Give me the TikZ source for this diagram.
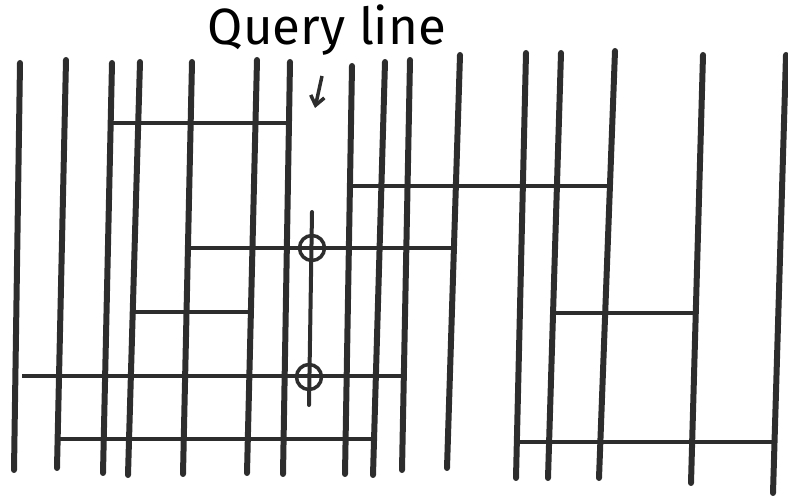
\documentclass[tikz,border=0pt]{standalone}
\usepackage{fontspec}
\usepackage{graphicx}
\setmainfont{Fira Sans}
\usetikzlibrary{arrows.meta}
\definecolor{ink}{RGB}{45,45,45}
\tikzset{
  vline/.style={draw=ink,line width=6bp,line cap=round},
  hline/.style={draw=ink,line width=4bp},
  qline/.style={draw=ink,line width=4bp,line cap=round},
  hit/.style={draw=ink,line width=3.5bp,circle,minimum size=25bp,inner sep=0pt},
  label/.style={text=black,inner sep=0pt}
}
\begin{document}
\begin{tikzpicture}[x=1bp,y=-1bp]
\useasboundingbox (0,0) rectangle (788,498);
% vertical segments
\foreach \xt/\yt/\xb/\yb in {20/63/14/470, 66/60/57/468, 112/63/103/473, 140/62/128/475,
  192/62/183/474, 257/60/247/473, 290/62/283/474, 352/66/345/474, 385/62/373/475,
  410/60/402/470, 460/55/447/468, 526/53/516/478, 561/53/548/478, 615/51/599/478,
  703/55/691/483, 786/55/773/493}
  \draw[vline] (\xt,\yt) -- (\xb,\yb);
% horizontal segments
\draw[hline] (110,123) -- (288,123);
\draw[hline] (349,186) -- (610,186);
\draw[hline] (189,248) -- (453,248);
\draw[hline] (135,312) -- (251,312);
\draw[hline] (22,376) -- (404,376);
\draw[hline] (58,439) -- (374,439);
\draw[hline] (555,313) -- (697,313);
\draw[hline] (519,442) -- (775,442);
% query line
\coordinate (qtop) at (312,212);
\coordinate (qbot) at (309,405);
\draw[qline] (qtop) -- (qbot);
\node[hit] (c1) at (312,248) {};
\node[hit] (c2) at (309,377) {};
\draw[ink,line width=2.5bp] (c1.north) -- (c1.south) (c1.west) -- (c1.east);
\draw[ink,line width=2.5bp] (c2.north) -- (c2.south) (c2.west) -- (c2.east);
% label
\node[label] (q) at (327,30) {\resizebox{238bp}{!}{Query line}};
\coordinate (astart) at (322,76);
\coordinate (aend) at (315,108);
\draw[ink,line width=3.5bp,-{Straight Barb[length=9bp,width=14bp]}] (astart) -- (aend);
\end{tikzpicture}
\end{document}
